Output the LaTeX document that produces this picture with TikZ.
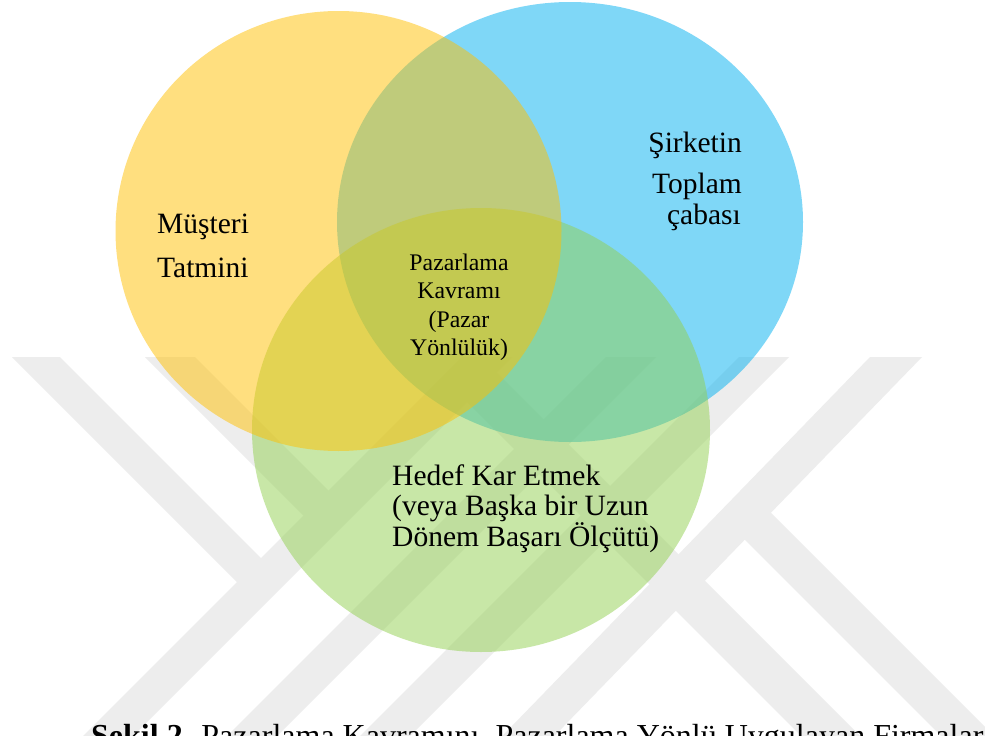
\documentclass[tikz,border=0pt]{standalone}
\usepackage{fontspec}
\setmainfont{Liberation Serif}
\begin{document}
\begin{tikzpicture}[x=1pt,y=-1pt]
\definecolor{wmgray}{RGB}{237,237,237}
\definecolor{vyellow}{RGB}{255,192,0}
\definecolor{vblue}{RGB}{0,176,240}
\definecolor{vgreen}{RGB}{146,208,80}
\tikzset{
  band/.style={fill=wmgray, draw=none},
  venn/.style={draw=none, fill opacity=0.5},
  bigtext/.style={font=\fontsize{29.5}{35}\selectfont, inner sep=0pt},
  midtext/.style={font=\fontsize{23.8}{28}\selectfont, inner sep=0pt},
  captext/.style={font=\fontsize{32}{38}\selectfont, inner sep=0pt},
}
\useasboundingbox (0,0) rectangle (985,736);
\clip (0,0) rectangle (985,736);
\fill[white] (0,0) rectangle (985,736);

% background emblem: diagonal bands
% left strokes ending on the long rising band
\fill[band] (12,357) -- (60,357) -- (273.5,570.5) -- (249.5,594.5) -- cycle;
\fill[band] (145,357) -- (195,357) -- (341,503) -- (316,528) -- cycle;
% rising bands
\fill[band] (462,357) -- (512,357) -- (109,760) -- (59,760) -- cycle;
\fill[band] (606,357) -- (656,357) -- (253,760) -- (203,760) -- cycle;
\fill[band] (739,357) -- (789,357) -- (386,760) -- (336,760) -- cycle;
\fill[band] (870,357) -- (922,357) -- (531,760) -- (479,760) -- cycle;
% falling arms on the right
\fill[band] (454.5,389.5) -- (484,360) -- (884,760) -- (825,760) -- cycle;
\fill[band] (727.5,522.5) -- (754,496) -- (1018,760) -- (965,760) -- cycle;

% the three sets
\fill[vblue, venn]   (570,222)   ellipse [x radius=233pt, y radius=220pt];
\fill[vgreen, venn]  (481,430)   ellipse [x radius=229pt, y radius=222pt];
\fill[vyellow, venn] (338.5,231) ellipse [x radius=223pt, y radius=220pt];

% labels
\node[bigtext, anchor=base west] (mus1) at (157,233) {Müşteri};
\node[bigtext, anchor=base west] (mus2) at (157,277) {Tatmini};
\node[bigtext, anchor=base east] (sir1) at (742,152) {Şirketin};
\node[bigtext, anchor=base east] (sir2) at (742,193) {Toplam};
\node[bigtext, anchor=base east] (sir3) at (741,224) {çabası};
\node[midtext, anchor=base] (paz1) at (459,270)   {Pazarlama};
\node[midtext, anchor=base] (paz2) at (459,298.5) {Kavramı};
\node[midtext, anchor=base] (paz3) at (459,327)   {(Pazar};
\node[midtext, anchor=base] (paz4) at (459,355)   {Yönlülük)};
\node[bigtext, anchor=base west] (hed1) at (392,485)   {Hedef Kar Etmek};
\node[bigtext, anchor=base west] (hed2) at (392,515.5) {(veya Başka bir Uzun};
\node[bigtext, anchor=base west] (hed3) at (392,546)   {Dönem Başarı Ölçütü)};

% caption
\node[captext, anchor=base west] (cap) at (91,746)
  {\textbf{Şekil 2.} Pazarlama Kavramını, Pazarlama Yönlü Uygulayan Firmalar};
\end{tikzpicture}
\end{document}
